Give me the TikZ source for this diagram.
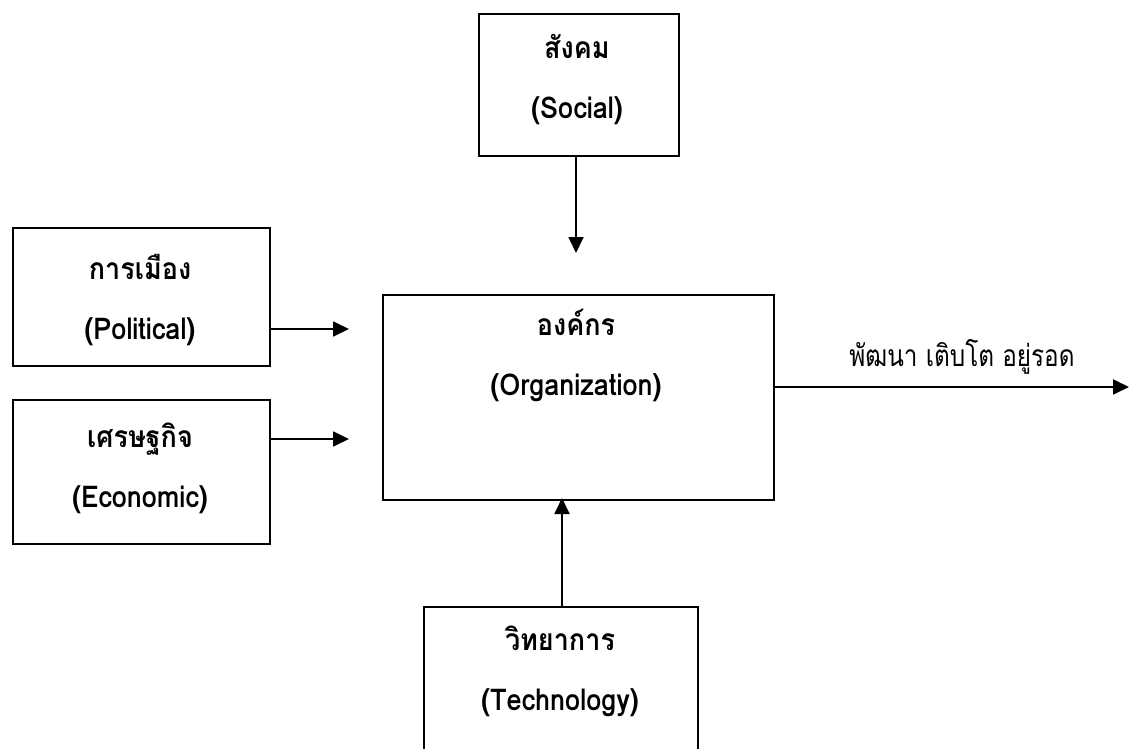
\documentclass[tikz,border=0pt]{standalone}
\usepackage{fontspec}
\usetikzlibrary{arrows.meta}
\newfontfamily\thaifont[Script=Thai,FakeStretch=0.9]{Loma}
\newfontfamily\thaiplain[Script=Thai,FakeStretch=0.81]{Loma}
\begin{document}
\begin{tikzpicture}[x=1pt,y=-1pt,
  box/.style={draw, line width=1.6pt, inner sep=0pt, anchor=north west},
  lbl/.style={font=\thaifont\bfseries\fontsize{30}{60}\selectfont, align=center, inner sep=0pt},
  plain/.style={font=\thaiplain\fontsize{30}{36}\selectfont, inner sep=0pt},
  arr/.style={line width=1.8pt, -{Triangle[length=16pt,width=15pt]}}]
\useasboundingbox (0,0) rectangle (1129,749);
\clip (0,0) rectangle (1129,749);
% boxes
\node[box, minimum width=200pt, minimum height=142pt] (soc) at (478,13) {};
\node[box, minimum width=257pt, minimum height=138pt] (pol) at (12,227) {};
\node[box, minimum width=257pt, minimum height=144pt] (eco) at (12,399) {};
\node[box, minimum width=391pt, minimum height=205pt] (org) at (382,294) {};
\node[box, minimum width=274pt, minimum height=180pt] (tec) at (423,606) {};
% texts
\node[lbl] (soct) at (577,80) {สังคม\\(Social)};
\node[lbl] (polt) at (140,300) {การเมือง\\(Political)};
\node[lbl] (ecot) at (140,468) {เศรษฐกิจ\\(Economic)};
\node[lbl] (orgt) at (576,355) {องค์กร\\(Organization)};
\node[lbl] (tect) at (560,671) {วิทยาการ\\(Technology)};
\node[plain] (out) at (962,357) {พัฒนา เติบโต อยู่รอด};
% arrow targets
\coordinate (socend) at (576,253);
\coordinate (polend) at (349,329);
\coordinate (ecoend) at (349,439);
\coordinate (tecend) at (562,498);
\coordinate (outend) at (1129,387);
% connectors
\draw[arr] (soc.south -| socend) -- (socend);
\draw[arr] (pol.east |- polend) -- (polend);
\draw[arr] (eco.east |- ecoend) -- (ecoend);
\draw[arr] (tec.north -| tecend) -- (tecend);
\draw[arr] (org.east |- outend) -- (outend);
\end{tikzpicture}
\end{document}
